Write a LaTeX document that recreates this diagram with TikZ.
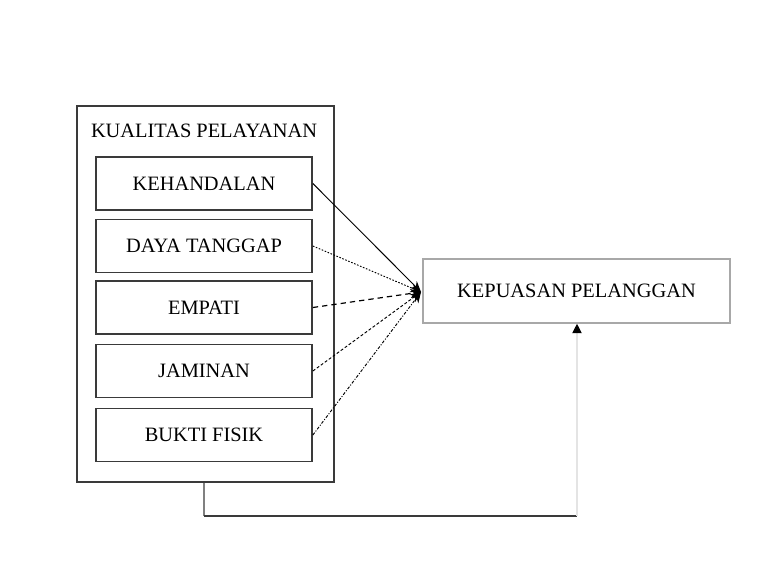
\documentclass[tikz,border=0pt]{standalone}
\usepackage{fontspec}
\setmainfont{Liberation Serif}
\usetikzlibrary{arrows.meta}
\definecolor{boxline}{HTML}{3A3A3A}
\definecolor{kepline}{HTML}{A8A8A8}
\definecolor{faint}{HTML}{E4E4E4}
\tikzset{
  lbl/.style={font=\fontsize{15.3}{18}\selectfont},
  outerbox/.style={draw=boxline, line width=1.5pt, minimum width=192.75pt, minimum height=282pt, inner sep=0pt},
  innerbox/.style={draw=boxline, line width=1.3pt, minimum width=162pt, minimum height=39.75pt, inner sep=0pt, lbl},
  kepbox/.style={draw=kepline, line width=1.2pt, minimum width=230.25pt, minimum height=48pt, inner sep=0pt, lbl},
  conn/.style={line width=0.7pt, -{Stealth[length=8pt,width=7pt]}},
}
\begin{document}
\begin{tikzpicture}[x=0.75pt, y=-0.75pt]
\useasboundingbox (0,0) rectangle (778,574);
\node[outerbox] (outer) at (205.5,294) {};
\node[lbl] (title) at (204,131) {KUALITAS PELAYANAN};
\node[innerbox] (kh) at (204,183.5) {KEHANDALAN};
\node[innerbox] (dt) at (204,246) {DAYA TANGGAP};
\node[innerbox] (em) at (204,307.5) {EMPATI};
\node[innerbox] (ja) at (204,371) {JAMINAN};
\node[innerbox] (bf) at (204,435) {BUKTI FISIK};
\node[kepbox] (kep) at (576.5,291) {KEPUASAN PELANGGAN};
\coordinate (conv) at (421,292);
\draw[conn] (kh.east) -- (conv);
\draw[conn, dash pattern=on 1.2pt off 1.2pt] (dt.east) -- (conv);
\draw[conn, line width=0.9pt, dash pattern=on 4pt off 3pt] (em.east) -- (conv);
\draw[conn, dash pattern=on 2.2pt off 1.5pt] (ja.east) -- (conv);
\draw[conn, dash pattern=on 2.2pt off 1.2pt on 0.8pt off 1.2pt] (bf.east) -- (conv);
\coordinate (b1) at (204,516);
\coordinate (b2) at (577,516);
\draw[gray, line width=1.3pt] (outer.south -| b1) -- (b1);
\draw[boxline, line width=1.8pt] (b1) -- (b2);
\draw[faint, line width=0.8pt, -{Triangle[black,length=7pt,width=7pt]}] (b2) -- (kep.south -| b2);
\end{tikzpicture}
\end{document}
